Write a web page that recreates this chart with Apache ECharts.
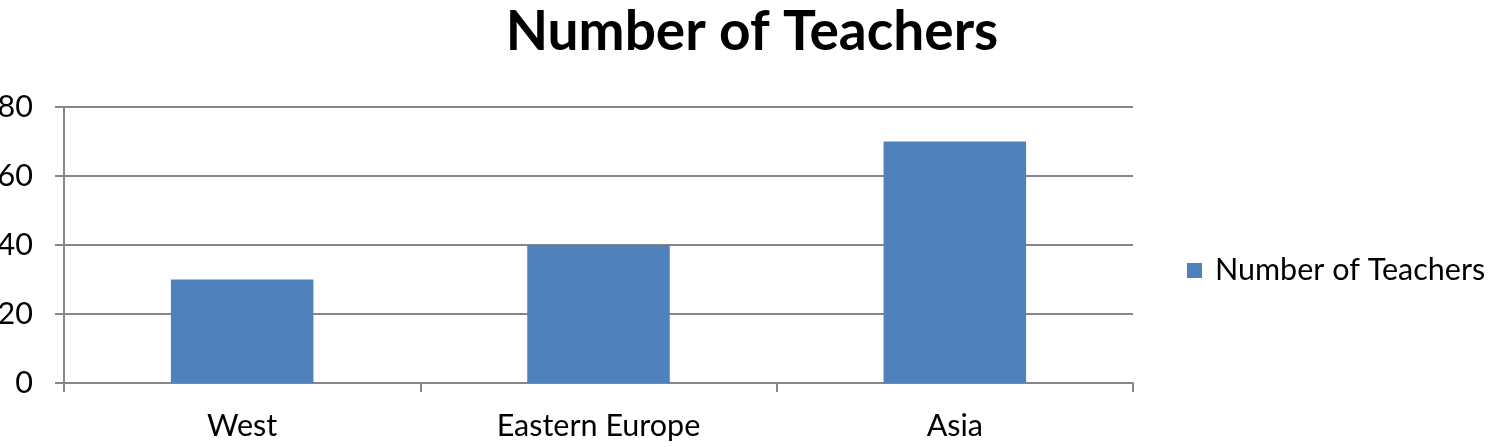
<!DOCTYPE html>
<html><head><meta charset="utf-8">
<script src="https://cdn.jsdelivr.net/npm/echarts@6/dist/echarts.min.js"></script>
<style>html,body{margin:0;padding:0;background:#fff}#c{width:1490px;height:447px}</style>
</head><body><div id="c"></div>
<script>
const categories = ["West", "Eastern Europe", "Asia"];
const teachers = [30, 40, 70];
const seriesName = "Number of Teachers";
const yTicks = [0, 20, 40, 60, 80];

const FONT = "Lato";
const chart = echarts.init(document.getElementById('c'), null, {renderer: 'canvas'});
chart.setOption({
  animation: false,
  title: {
    text: seriesName, left: 747, top: 0, textAlign: 'center',
    textStyle: {fontFamily: FONT, fontWeight: 'bold', fontSize: 55, color: '#000'}
  },
  legend: {
    data: [seriesName], orient: 'vertical', left: 1182, top: 250,
    icon: 'rect', itemWidth: 15, itemHeight: 15, itemGap: 10,
    textStyle: {fontFamily: FONT, fontSize: 30.5, color: '#000', padding: [0,0,0,8]}
  },
  grid: {left: 64, right: 357, top: 107, bottom: 64, containLabel: false, outerBoundsMode: 'none'},
  xAxis: {
    type: 'category', data: categories,
    axisLine: {lineStyle: {color: '#868686', width: 2}},
    axisTick: {show: true, length: 9, inside: false, lineStyle: {color: '#868686', width: 2}},
    axisLabel: {fontFamily: FONT, fontSize: 30.5, color: '#000', margin: 28}
  },
  yAxis: {
    type: 'value', min: yTicks[0], max: yTicks[yTicks.length-1], interval: 20,
    axisLine: {show: true, lineStyle: {color: '#868686', width: 2}},
    axisTick: {show: true, length: 9, lineStyle: {color: '#868686', width: 2}},
    splitLine: {show: true, lineStyle: {color: '#868686', width: 2}},
    axisLabel: {fontFamily: FONT, fontSize: 30.5, color: '#000', margin: 31}
  },
  series: [{
    name: seriesName, type: 'bar', data: teachers,
    barCategoryGap: '60%', itemStyle: {color: '#4F81BD'}
  }]
});
</script></body></html>
